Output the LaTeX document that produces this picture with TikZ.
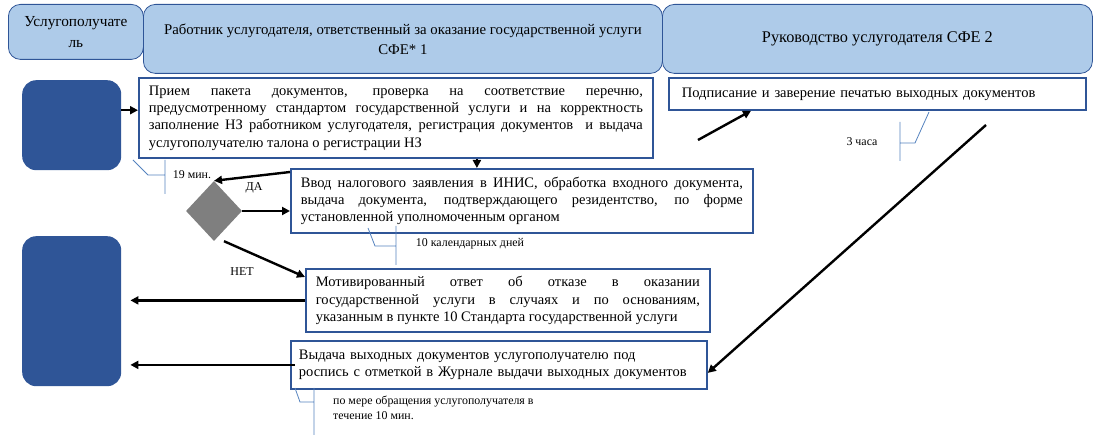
\documentclass[tikz,border=0pt]{standalone}
\usepackage{fontspec}
\setmainfont{Liberation Serif}
\usetikzlibrary{arrows.meta,shapes.geometric}
\hyphenpenalty=10000
\exhyphenpenalty=10000
\definecolor{lanefill}{RGB}{174,203,233}
\definecolor{frameblue}{RGB}{47,85,151}
\definecolor{noteblue}{RGB}{84,130,190}
\definecolor{decgray}{RGB}{127,127,127}
\tikzstyle{lane}=[draw=frameblue,fill=lanefill,rounded corners=12pt,line width=0.8pt,anchor=north west,align=center,font=\fontsize{14.8}{20}\selectfont]
\tikzstyle{client}=[fill=frameblue,rounded corners=14pt,anchor=north west,minimum width=99pt]
\tikzstyle{task}=[draw=frameblue,line width=1.8pt,anchor=north west,inner xsep=10pt,inner ysep=0pt,align=justify,font=\fontsize{14.5}{17.3}\selectfont]
\tikzstyle{decision}=[diamond,fill=decgray,minimum width=56pt,minimum height=60pt,inner sep=0pt]
\tikzstyle{edge}=[draw,line width=2.4pt,-{Triangle[length=8pt,width=8pt]}]
\tikzstyle{note}=[font=\fontsize{11.9}{15}\selectfont,align=left,inner sep=0pt]
\tikzstyle{branch}=[font=\fontsize{12}{14}\selectfont,inner sep=0pt]
\tikzstyle{calloutline}=[draw=noteblue,line width=0.8pt]

\begin{document}
\begin{tikzpicture}[x=1pt,y=-1pt]
\useasboundingbox (0,0) rectangle (1096,435);

% swimlanes
\node[lane,minimum width=135pt,minimum height=55pt,font=\fontsize{15.3}{21}\selectfont] (lane1) at (8,4) {Услугополучате\\ль};
\node[lane,minimum width=519pt,minimum height=69pt] (lane2) at (143,4) {Работник услугодателя, ответственный за оказание государственной услуги\\СФЕ* 1};
\node[lane,minimum width=430pt,minimum height=69pt,font=\fontsize{16.3}{20}\selectfont] (lane3) at (662,4) {Руководство услугодателя СФЕ 2};

% service recipient
\foreach \pos/\name/\h in {(22,80)/usr1/90, (22,236)/usr2/150}
    \node[client,minimum height=\h] (\name) at \pos {};

% steps
\node[task,text width=494pt,minimum height=80pt] (recv) at (138,77) {Прием пакета документов, проверка на соответствие перечню,\linebreak предусмотренному стандартом государственной услуги и на корректность\linebreak заполнение НЗ работником услугодателя, регистрация документов\ \ и выдача\linebreak услугополучателю талона о регистрации НЗ};
\node[task,text width=442pt,minimum height=64pt] (input) at (290,168) {Ввод налогового заявления в ИНИС, обработка входного документа,\linebreak выдача документа, подтверждающего резидентство, по форме\linebreak установленной уполномоченным органом};
\node[task,text width=384pt,minimum height=63pt] (deny) at (305,268) {Мотивированный ответ об отказе в оказании\linebreak государственной услуги в случаях и по основаниям,\linebreak указанным в пункте 10 Стандарта государственной услуги};
\node[task,text width=400pt,inner xsep=8pt,minimum height=48pt,align=left] (issue) at (290,340) {Выдача выходных документов услугополучателю под\\роспись с отметкой в Журнале выдачи выходных документов};
\node[task,text width=391pt,inner xsep=13pt,minimum height=32pt,align=left] (sign) at (668,77) {Подписание и заверение печатью выходных документов};
\node[decision] (dec) at (214,211) {};

% free ends
\coordinate (upsign) at (698,140);
\coordinate (downissue) at (986,125);

% connectors
\draw[edge] ([yshift=15pt]usr1.east) -- ([yshift=15pt]usr1.east -| recv.west);
\draw[edge] ([xshift=-45pt]input.north |- recv.south) -- ([xshift=-45pt]input.north);
\draw[edge] ([yshift=-4pt]input.north west) -- (dec.north);
\draw[edge] (dec.east) -- (dec.east -| input.west);
\draw[edge] ([xshift=10pt]dec.south) -- ([yshift=-9pt]deny.north west);
\foreach \source/\sh in {deny/0pt, issue/-5pt}
    \draw[edge,shorten <=\sh,shorten >=9pt] (\source.west) -- (\source.west -| usr2.east);
\draw[edge] (upsign) -- ([xshift=83pt]sign.south west);
\draw[edge] (downissue) -- ([yshift=-8pt]issue.east);
\node[branch] (yes) at (254,188) {ДА};
\node[branch] (no) at (242,272) {НЕТ};

% time notes
\node[note] (t1) at (192,175) {19 мин.};
\node[note] (t2) at (470,244) {10 календарных дней};
\node[note] (t3) at (862,142) {3 часа};
\node[note,anchor=north west] (t4) at (333,396) {по мере обращения услугополучателя в\\течение 10 мин.};
\path[calloutline] (133,160) -- (148,175) -- (165,175) (165,160) -- (165,194);
\path[calloutline] (368,228) -- (375,246) -- (396,246) (396,226) -- (396,265);
\path[calloutline] (929,112) -- (915,143) -- (900,143) (900,122) -- (900,161);
\path[calloutline] (295,388) -- (300,402) -- (314,402) (314,388) -- (314,435);
\end{tikzpicture}
\end{document}
